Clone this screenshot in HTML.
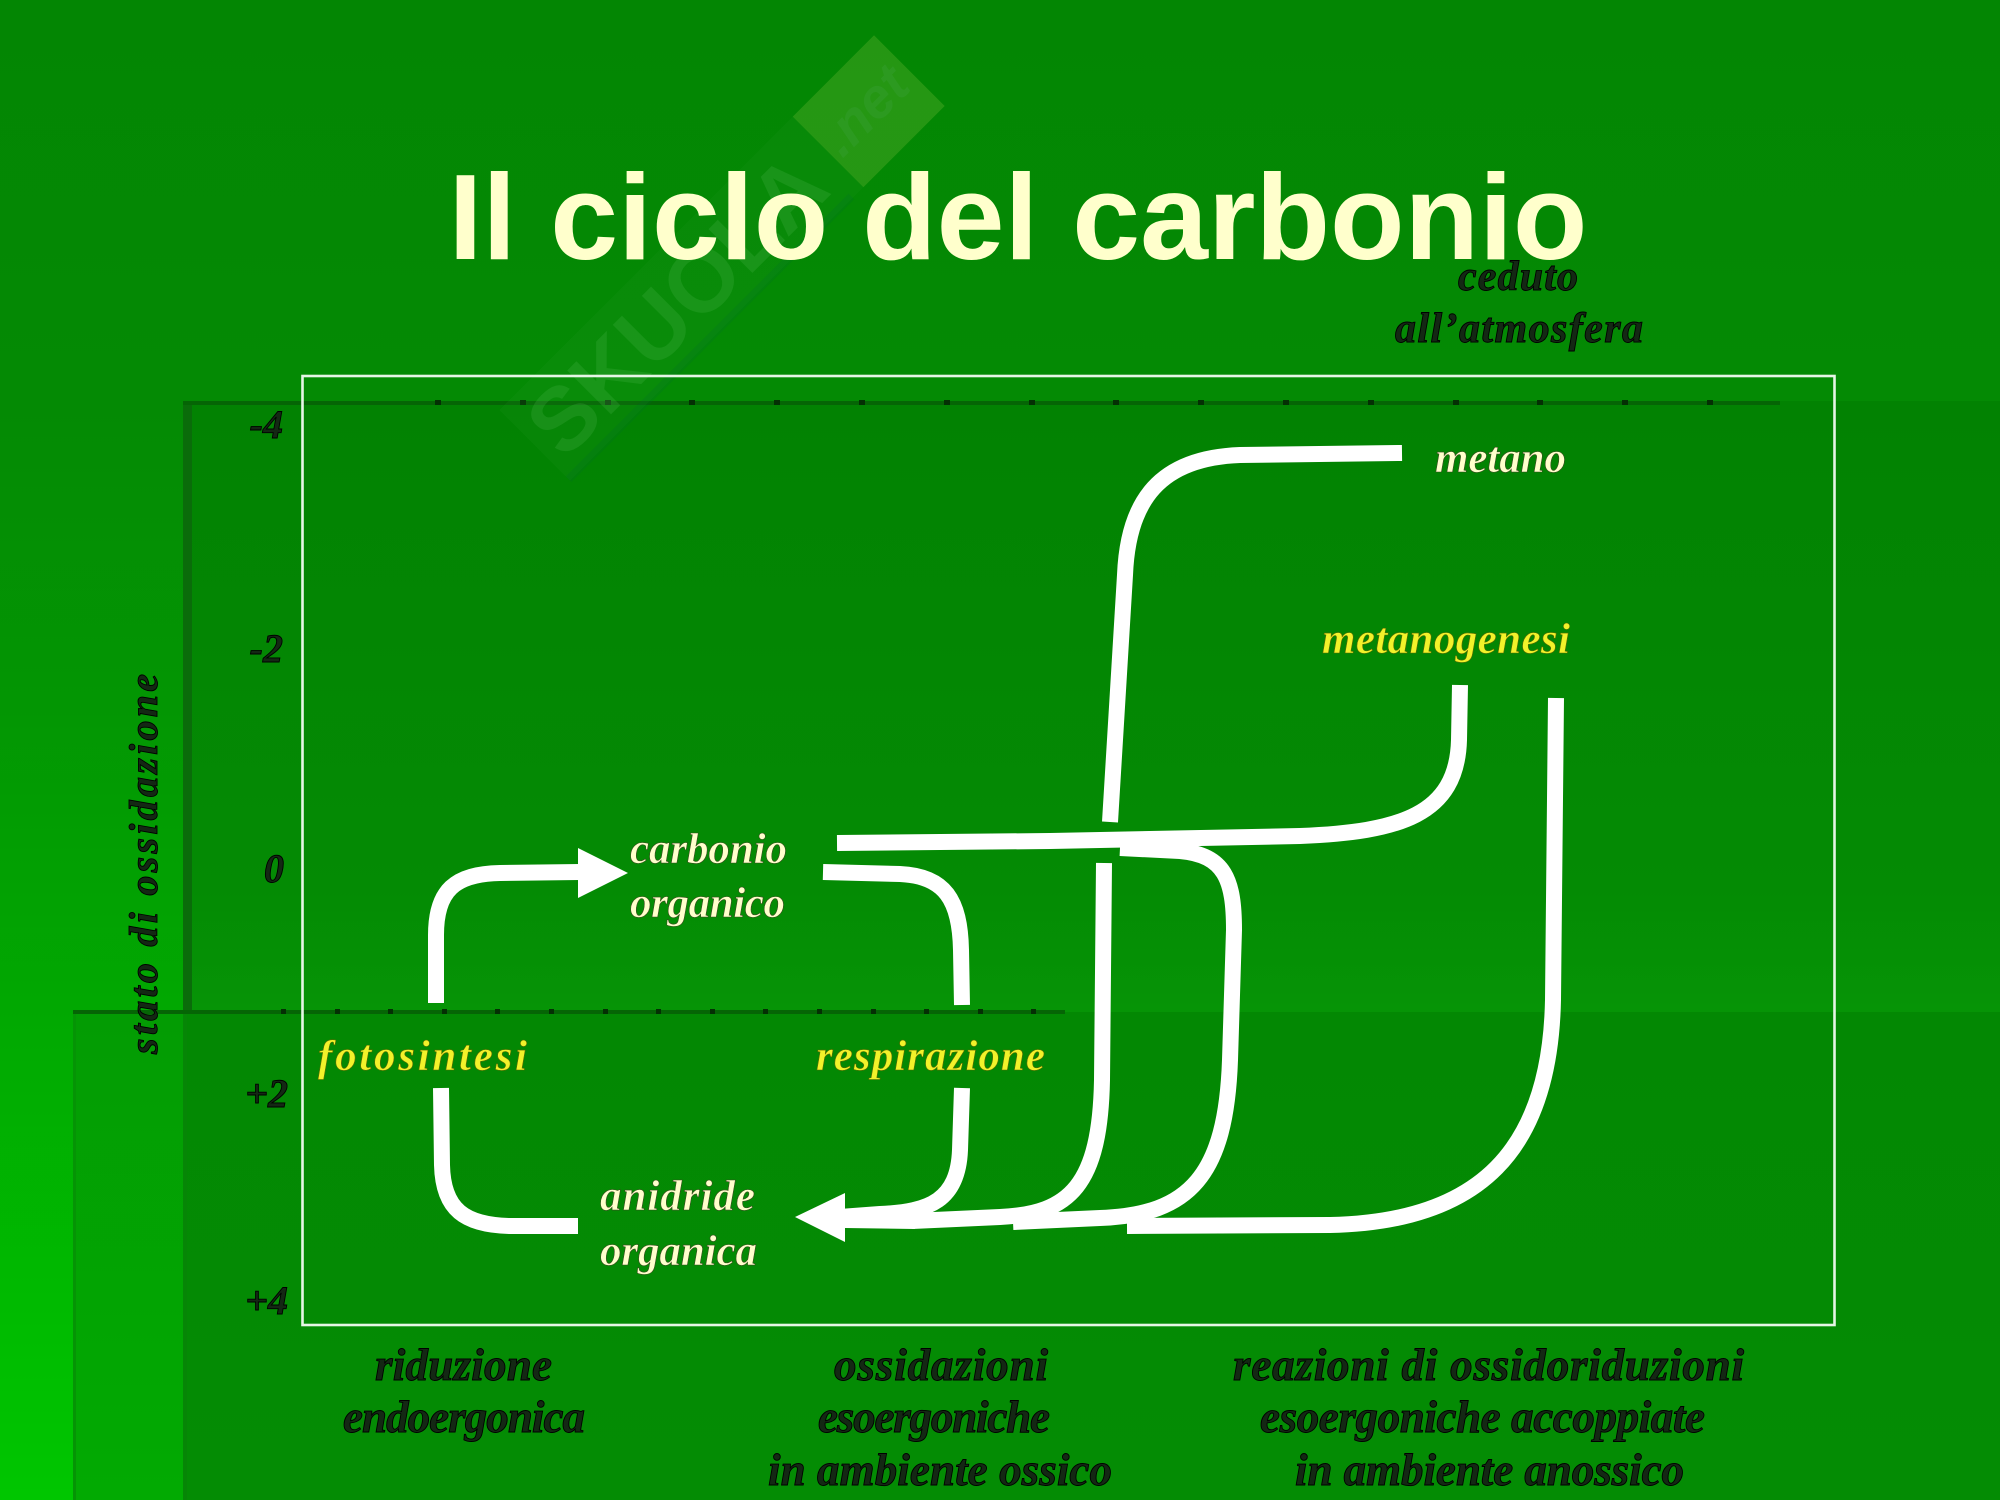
<!DOCTYPE html>
<html>
<head>
<meta charset="utf-8">
<style>
  html,body{margin:0;padding:0;background:#038603;}
  svg{display:block;}
  .lbl{font-family:"Liberation Serif",serif;font-style:italic;font-weight:bold;}
</style>
</head>
<body>
<svg width="2000" height="1500" viewBox="0 0 2000 1500" xmlns="http://www.w3.org/2000/svg">
  <defs>
    <linearGradient id="bg" x1="0" y1="0" x2="0" y2="1500" gradientUnits="userSpaceOnUse">
      <stop offset="0" stop-color="#038603"/>
      <stop offset="0.27" stop-color="#048a04"/>
      <stop offset="0.47" stop-color="#039603"/>
      <stop offset="0.67" stop-color="#01a801"/>
      <stop offset="1" stop-color="#00c600"/>
    </linearGradient>
    <linearGradient id="pa" x1="0" y1="401" x2="0" y2="1012" gradientUnits="userSpaceOnUse">
      <stop offset="0" stop-color="#028202"/>
      <stop offset="0.8" stop-color="#048b04"/>
      <stop offset="1" stop-color="#069406"/>
    </linearGradient>
    <linearGradient id="pbl" x1="0" y1="1012" x2="0" y2="1500" gradientUnits="userSpaceOnUse">
      <stop offset="0" stop-color="#039c03"/>
      <stop offset="1" stop-color="#02aa02"/>
    </linearGradient>
    <linearGradient id="pab" x1="0" y1="1012" x2="0" y2="1500" gradientUnits="userSpaceOnUse">
      <stop offset="0" stop-color="#038803"/>
      <stop offset="1" stop-color="#048c04"/>
    </linearGradient>
  </defs>

  <!-- background -->
  <rect x="0" y="0" width="2000" height="1500" fill="url(#bg)"/>
  <!-- panel A -->
  <rect x="183" y="401" width="1817" height="611" fill="url(#pa)"/>
  <!-- panel B -->
  <rect x="73" y="1012" width="110" height="488" fill="url(#pbl)"/>
  <rect x="183" y="1012" width="1817" height="488" fill="url(#pab)"/>

  <!-- panel edges -->
  <rect x="183" y="401" width="9" height="611" fill="#0a6c0a"/>
  <rect x="183" y="1012" width="4" height="488" fill="#068606"/>
  <rect x="73" y="1012" width="3" height="488" fill="#059405"/>
  <rect x="183" y="401" width="1597" height="4" fill="#056505"/>
  <rect x="73" y="1010" width="992" height="4" fill="#056505"/>
  <g fill="#043004">
    <rect x="435" y="400" width="6" height="5"/><rect x="520" y="400" width="6" height="5"/>
    <rect x="605" y="400" width="6" height="5"/><rect x="689" y="400" width="6" height="5"/>
    <rect x="774" y="400" width="6" height="5"/><rect x="859" y="400" width="6" height="5"/>
    <rect x="944" y="400" width="6" height="5"/><rect x="1029" y="400" width="6" height="5"/>
    <rect x="1113" y="400" width="6" height="5"/><rect x="1198" y="400" width="6" height="5"/>
    <rect x="1283" y="400" width="6" height="5"/><rect x="1368" y="400" width="6" height="5"/>
    <rect x="1453" y="400" width="6" height="5"/><rect x="1537" y="400" width="6" height="5"/>
    <rect x="1622" y="400" width="6" height="5"/><rect x="1707" y="400" width="6" height="5"/>
    <rect x="281" y="1009" width="5" height="5"/><rect x="335" y="1009" width="5" height="5"/>
    <rect x="388" y="1009" width="5" height="5"/><rect x="442" y="1009" width="5" height="5"/>
    <rect x="495" y="1009" width="5" height="5"/><rect x="549" y="1009" width="5" height="5"/>
    <rect x="603" y="1009" width="5" height="5"/><rect x="656" y="1009" width="5" height="5"/>
    <rect x="710" y="1009" width="5" height="5"/><rect x="763" y="1009" width="5" height="5"/>
    <rect x="817" y="1009" width="5" height="5"/><rect x="871" y="1009" width="5" height="5"/>
    <rect x="924" y="1009" width="5" height="5"/><rect x="978" y="1009" width="5" height="5"/>
    <rect x="1031" y="1009" width="5" height="5"/>
  </g>

  <!-- watermark (faint) -->
  <g transform="translate(722,258) rotate(-45)">
    <rect x="-265" y="-50" width="530" height="100" fill="#30a030" opacity="0.12"/>
    <rect x="-265" y="44" width="400" height="8" fill="#006a30" opacity="0.18"/>
    <text x="-255" y="32" font-family="Liberation Sans, sans-serif" font-weight="bold" font-size="90" fill="#5cc05c" opacity="0.2">SKUOLA</text>
    <rect x="150" y="-50" width="115" height="100" fill="#8cc83c" opacity="0.22"/>
    <text x="155" y="15" font-family="Liberation Sans, sans-serif" font-style="italic" font-weight="bold" font-size="56" fill="#3aa03a" opacity="0.35">.net</text>
  </g>

  <!-- title -->
  <text x="1018" y="259" text-anchor="middle" font-family="Liberation Sans, sans-serif" font-weight="bold" font-size="122" fill="#ffffcc">Il ciclo del carbonio</text>

  <!-- frame -->
  <rect x="302.5" y="376" width="1532" height="949" fill="none" stroke="#e6f6e6" stroke-width="2.6"/>

  <!-- white arrows -->
  <g fill="none" stroke="#ffffff" stroke-width="16" stroke-linecap="butt" stroke-linejoin="round">
    <!-- fotosintesi -->
    <path d="M436 1003 L436 935 C436 890 455 874 500 873 L580 872"/>
    <path d="M441 1088 L442 1165 C443 1210 465 1225 510 1226 L578 1226"/>
    <!-- respirazione -->
    <path d="M823 872 L900 874 C945 876 960 900 961 950 L962 1005"/>
    <path d="M962 1088 L960 1150 C958 1200 930 1212 880 1214 L840 1217"/>
    <path d="M845 1220 L915 1221"/>
    <!-- metano -->
    <path d="M1402 453 L1240 455 C1160 458 1128 500 1125 575 L1110 822"/>
    <path d="M1104 863 L1102 1080 C1100 1185 1070 1214 1000 1217 L912 1221"/>
    <!-- branch from horizontal -->
    <path d="M1120 848 L1180 851 C1225 855 1234 880 1234 930 L1230 1060 C1226 1175 1190 1215 1100 1218 L1013 1222"/>
    <!-- metanogenesi -->
    <path d="M1460 685 L1459 740 C1457 815 1400 832 1300 836 L1050 841 L837 843"/>
    <!-- right vertical -->
    <path d="M1556 698 L1553 1000 C1550 1150 1480 1222 1330 1225 L1127 1226"/>
  </g>
  <g fill="#ffffff">
    <polygon points="578,848 578,898 628,873"/>
    <polygon points="845,1193 845,1242 795,1217"/>
  </g>

  <!-- axis numbers -->
  <g class="lbl" font-size="40" fill="#142814" stroke="#000" stroke-width="0.9" text-anchor="end">
    <text x="283" y="438">-4</text>
    <text x="283" y="662">-2</text>
    <text x="284" y="882">0</text>
    <text x="288" y="1107">+2</text>
    <text x="288" y="1314">+4</text>
  </g>

  <!-- y-axis label -->
  <text class="lbl" transform="translate(157,1054) rotate(-90)" font-size="40" fill="#142814" stroke="#000" stroke-width="0.9" textLength="380" lengthAdjust="spacing">stato di ossidazione</text>

  <!-- dark labels -->
  <g class="lbl" fill="#142814" stroke="#000" stroke-width="0.9">
    <text x="1458" y="290" font-size="42" textLength="120" lengthAdjust="spacing">ceduto</text>
    <text x="1395" y="342" font-size="42" textLength="248" lengthAdjust="spacing">all’atmosfera</text>

    <text x="375" y="1380" font-size="45" textLength="177" lengthAdjust="spacing">riduzione</text>
    <text x="343" y="1432" font-size="45" textLength="242" lengthAdjust="spacing">endoergonica</text>

    <text x="834" y="1380" font-size="45" textLength="214" lengthAdjust="spacing">ossidazioni</text>
    <text x="818" y="1432" font-size="45" textLength="232" lengthAdjust="spacing">esoergoniche</text>
    <text x="768" y="1485" font-size="45" textLength="344" lengthAdjust="spacing">in ambiente ossico</text>

    <text x="1233" y="1380" font-size="45" textLength="511" lengthAdjust="spacing">reazioni di ossidoriduzioni</text>
    <text x="1260" y="1432" font-size="45" textLength="445" lengthAdjust="spacing">esoergoniche accoppiate</text>
    <text x="1295" y="1485" font-size="45" textLength="389" lengthAdjust="spacing">in ambiente anossico</text>
  </g>

  <!-- light labels -->
  <g class="lbl" fill="#ffffcc" stroke="#3a4a20" stroke-width="0.6" font-size="43">
    <text x="1435" y="472" textLength="131" lengthAdjust="spacing">metano</text>
    <text x="630" y="863" textLength="157" lengthAdjust="spacing">carbonio</text>
    <text x="630" y="917" textLength="155" lengthAdjust="spacing">organico</text>
    <text x="600" y="1210" textLength="155" lengthAdjust="spacing">anidride</text>
    <text x="600" y="1265" textLength="157" lengthAdjust="spacing">organica</text>
  </g>

  <!-- yellow labels -->
  <g class="lbl" fill="#f2f22a" stroke="#5a6a00" stroke-width="0.6" font-size="43">
    <text x="1322" y="653" textLength="248" lengthAdjust="spacing">metanogenesi</text>
    <text x="318" y="1070" textLength="209" lengthAdjust="spacing">fotosintesi</text>
    <text x="816" y="1070" textLength="229" lengthAdjust="spacing">respirazione</text>
  </g>
</svg>
</body>
</html>
